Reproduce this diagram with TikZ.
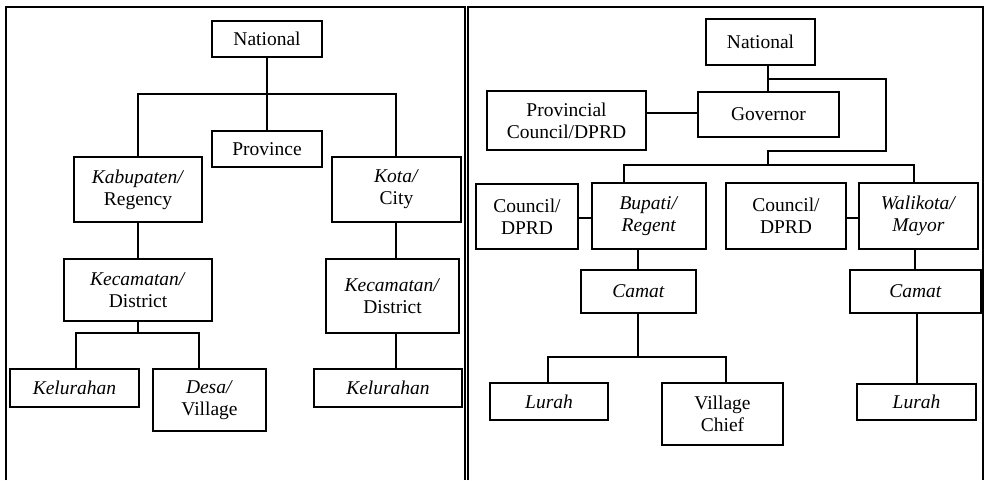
\documentclass[tikz,border=0pt]{standalone}
\usepackage{fontspec}
\setmainfont{Liberation Serif}
\usetikzlibrary{calc}
\begin{document}
\begin{tikzpicture}[x=1pt,y=-1pt,line width=2pt,
  bx/.style={draw,inner sep=0pt,align=center,font=\fontsize{19.5}{22}\selectfont},
  sz/.style 2 args={minimum width=#1pt,minimum height=#2pt},
  frame/.style={line width=1.6pt}]
\useasboundingbox (0,0) rectangle (984,480);
% frames
\draw[frame] (6,480) -- (6,7) -- (465,7) -- (465,480);
\draw[frame] (468,480) -- (468,7) -- (983,7) -- (983,480);

% ---------- left panel ----------
\node[bx,sz={110}{36}] (nat1) at (267,39) {National};
\node[bx,sz={110}{36}] (prov) at (267,149) {Province};
\node[bx,sz={128}{65}] (kab) at (138,189.5) {\textit{Kabupaten/}\\Regency};
\node[bx,sz={129}{65}] (kota) at (396.5,189.5) {\textit{Kota/}\\City};
\node[bx,sz={148}{62}] (kec1) at (138,290) {\textit{Kecamatan/}\\District};
\node[bx,sz={133}{74}] (kec2) at (392.5,296) {\textit{Kecamatan/}\\District};
\node[bx,sz={129}{38}] (kel1) at (74.5,388) {\textit{Kelurahan}};
\node[bx,sz={113}{62}] (desa) at (209.5,400) {\textit{Desa/}\\Village};
\node[bx,sz={148}{38}] (kel2) at (388,388) {\textit{Kelurahan}};

\coordinate (l1) at (267,94);
\coordinate (l2) at (138,333);
\draw (nat1.south) -- (prov.north);
\draw (kab.north) |- (l1) -| ([xshift=-0.5pt]kota.north);
\draw (kab.south) -- (kec1.north);
\draw ([xshift=-0.5pt]kota.south) -- ([xshift=-0.5pt]kota.south |- kec2.north);
\draw (kec1.south) -- (l2);
\draw ([xshift=1.5pt]kel1.north) |- (l2) -| ([xshift=-10.5pt]desa.north);
\draw ([xshift=-0.5pt]kota.south |- kec2.south) -- ([xshift=-0.5pt]kota.south |- kel2.north);

% ---------- right panel ----------
\node[bx,sz={109}{46}] (nat2) at (760.5,42) {National};
\node[bx,sz={141}{45}] (gov) at (768.5,114.5) {Governor};
\node[bx,sz={159}{59}] (pcouncil) at (566.5,120.5) {Provincial\\Council/DPRD};
\node[bx,sz={102}{65}] (council1) at (527,216.5) {Council/\\DPRD};
\node[bx,sz={114}{66}] (bupati) at (649,216) {\textit{Bupati/}\\\textit{Regent}};
\node[bx,sz={120}{66}] (council2) at (786,216) {Council/\\DPRD};
\node[bx,sz={119}{66}] (walikota) at (918.5,216) {\textit{Walikota/}\\\textit{Mayor}};
\node[bx,sz={115}{43}] (camat1) at (638.5,291.5) {\textit{Camat}};
\node[bx,sz={131}{43}] (camat2) at (915.5,291.5) {\textit{Camat}};
\node[bx,sz={118}{37}] (lurah1) at (549,401.5) {\textit{Lurah}};
\node[bx,sz={121}{62}] (vchief) at (722.5,414) {Village\\Chief};
\node[bx,sz={119}{36}] (lurah2) at (916.5,402) {\textit{Lurah}};

\coordinate (r1) at (768,79);
\coordinate (r2) at (886,151);
\coordinate (r3) at (768,165);
\coordinate (r4) at (638,357);
\draw ([xshift=-0.5pt]gov.north) -- ([xshift=-0.5pt]gov.north |- nat2.south);
\draw (r1) -| (r2) -| (r3);
\draw ([xshift=-25pt]bupati.north) |- (r3) -| ([xshift=-4.5pt]walikota.north);
\draw ([yshift=1.5pt]gov.west) -- ([yshift=1.5pt]gov.west -| pcouncil.east);
\draw ([yshift=-1.5pt]council1.east) -- ([yshift=-1.5pt]council1.east -| bupati.west);
\draw ([yshift=-2pt]council2.east) -- ([yshift=-2pt]council2.east -| walikota.west);
\draw ([xshift=-0.5pt]camat1.north) -- ([xshift=-0.5pt]camat1.north |- bupati.south);
\draw ([xshift=-0.5pt]camat2.north) -- ([xshift=-0.5pt]camat2.north |- walikota.south);
\draw ([xshift=-0.5pt]camat1.south) -- (r4);
\draw ([xshift=-1pt]lurah1.north) |- (r4) -| ([xshift=3.5pt]vchief.north);
\draw ([xshift=1.5pt]camat2.south) -- ([xshift=1.5pt]camat2.south |- lurah2.north);
\end{tikzpicture}
\end{document}
